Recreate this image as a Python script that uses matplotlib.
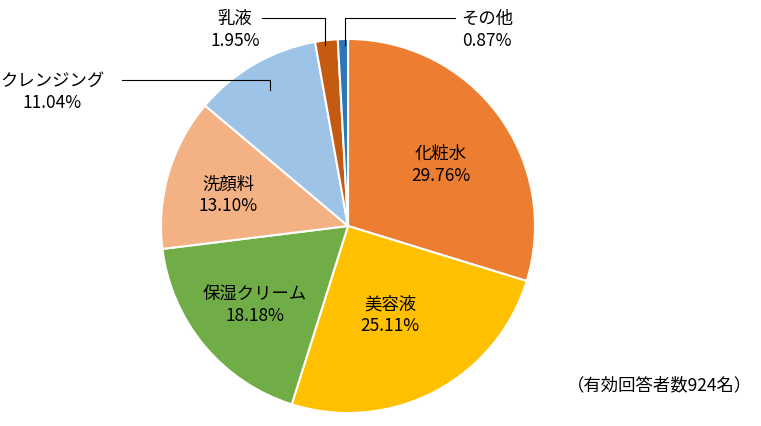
import matplotlib.pyplot as plt

plt.rcParams["font.family"] = "Noto Sans CJK JP"

labels = ["化粧水", "美容液", "保湿クリーム", "洗顔料", "クレンジング", "乳液", "その他"]
values = [29.76, 25.11, 18.18, 13.10, 11.04, 1.95, 0.87]
colors = ["#ED7D31", "#FFC000", "#70AD47", "#F4B183", "#9DC3E6", "#C55A11", "#2E75B6"]

W, H = 761, 426
CX, CY, R = 348, 226, 187


def to_data(px, py):
    return (px - CX) / R, (CY - py) / R


fig = plt.figure(figsize=(W / 100, H / 100), dpi=100)
ax = fig.add_axes([(CX - R) / W, (H - CY - R) / H, 2 * R / W, 2 * R / H])
ax.pie(values, colors=colors, startangle=90, counterclock=False, radius=1,
       wedgeprops=dict(edgecolor="white", linewidth=1.5))
ax.set_xlim(-1, 1)
ax.set_ylim(-1, 1)
ax.set_aspect("equal")
ax.axis("off")

fs = 12.5
inner = {0: (441, 165), 1: (390, 315), 2: (255, 305), 3: (228, 195)}
for i, (px, py) in inner.items():
    x, y = to_data(px, py)
    ax.text(x, y, f"{labels[i]}\n{values[i]:.2f}%", ha="center", va="center",
            fontsize=fs, linespacing=1.25)

# outside labels with leader lines (figure pixel coords)
outer = {
    4: ((52, 92), [(122, 80), (270, 80), (270, 90)]),
    5: ((235, 30), [(262, 18), (325, 18), (325, 45)]),
    6: ((487, 30), [(455, 18), (345, 18), (345, 45)]),
}
for i, ((px, py), pts) in outer.items():
    fig.text(px / W, 1 - py / H, f"{labels[i]}\n{values[i]:.2f}%", ha="center",
             va="center", fontsize=fs, linespacing=1.25)
    xs = [p[0] / W for p in pts]
    ys = [1 - p[1] / H for p in pts]
    fig.add_artist(plt.Line2D(xs, ys, color="black", linewidth=0.8))

fig.text(752 / W, 1 - 385 / H, "（有効回答者数924名）", ha="right", va="center", fontsize=fs)

fig.savefig("out.png", dpi=100)
